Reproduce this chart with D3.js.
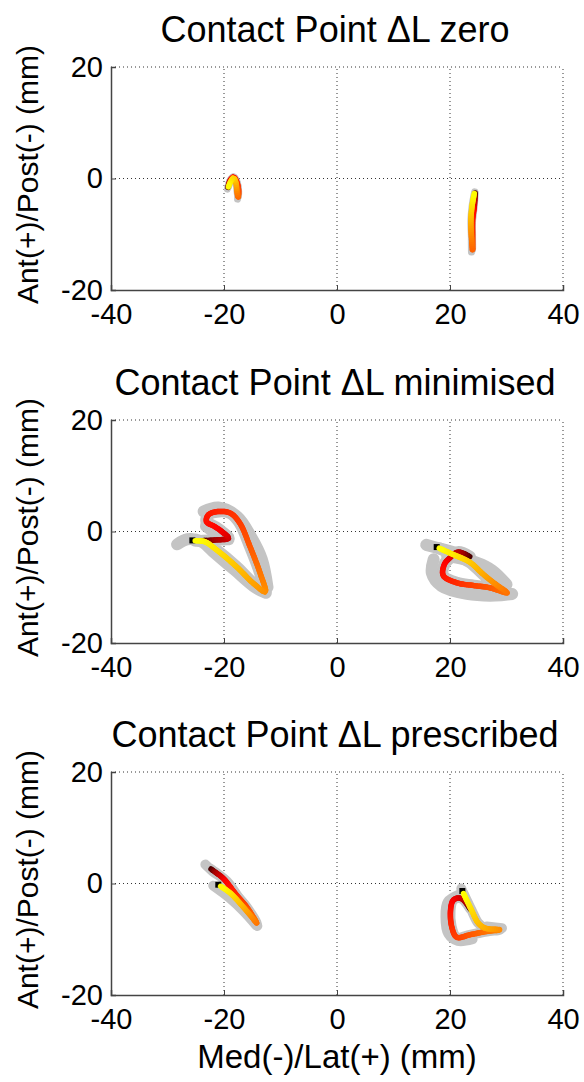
<!DOCTYPE html>
<html><head><meta charset="utf-8">
<script src="https://cdn.jsdelivr.net/npm/d3@7/dist/d3.min.js"></script>
<style>
html,body{margin:0;padding:0;background:#fff;}
svg{display:block;font-family:"Liberation Sans",Arial,sans-serif;}
</style></head>
<body>
<svg id="c" width="584" height="1082"></svg>
<script>
// ---- data ----
const xTicks = [-40, -20, 0, 20, 40];
const yTicks = [-20, 0, 20];
const titles = ["Contact Point \u0394L zero", "Contact Point \u0394L minimised", "Contact Point \u0394L prescribed"];
const xLabel = "Med(-)/Lat(+) (mm)";
const yLabel = "Ant(+)/Post(-) (mm)";

// mean contact-point paths (x mm, y mm), ordered in time
const zeroMed = [[-19.3,-1.6],[-18.9,-0.3],[-18.3,0.25],[-17.7,-0.7],[-17.4,-2.3],[-17.5,-3.4],[-17.7,-2.3],[-17.9,-0.7],[-18.3,0.1],[-18.8,-0.5],[-19.2,-1.5]];
const zeroLat = [[24.45,-2.6],[24.3,-5.0],[24.0,-7.5],[24.0,-10.5],[24.0,-12.9],[23.8,-10.5],[23.7,-7.5],[23.9,-5.0],[24.3,-2.7]];
const minMed = [[-23.8,-1.65],[-21.3,-1.5],[-19.2,-1.2],[-20.4,0.0],[-21.6,0.86],[-23.1,1.76],[-22.8,2.96],[-21.3,3.55],[-18.9,3.3],[-17.2,1.5],[-15.4,-2.7],[-13.6,-7.5],[-12.7,-10.8],[-14.8,-9.3],[-17.8,-6.3],[-21.3,-3.3],[-23.4,-1.83],[-25.1,-1.65]];
const minLat = [[23.5,-4.5],[21.4,-3.7],[19.8,-4.9],[19.0,-5.9],[18.8,-7.9],[21.2,-9.2],[24.2,-9.7],[27.1,-10.1],[30.1,-11.0],[28.0,-9.4],[25.8,-7.6],[23.5,-5.5],[20.5,-4.1],[18.1,-3.0]];
const preMed = [[-22.3,2.6],[-21.5,2.0],[-20.1,0.9],[-17.8,-2.06],[-16.0,-4.2],[-14.2,-7.1],[-15.1,-6.0],[-16.6,-4.2],[-18.9,-1.7],[-20.6,-0.5]];
const preLat = [[23.6,-4.6],[22.2,-2.8],[21.3,-2.6],[20.5,-3.1],[20.1,-4.75],[20.3,-7.75],[21.2,-9.65],[23.5,-9.2],[26.5,-8.6],[28.8,-8.3],[26.2,-8.0],[25.0,-7.1],[23.8,-4.75],[22.4,-1.8]];

// grey variability bands (x mm, y mm)
const zeroMedBand = [[[-19.4,-1.9],[-18.9,-0.3],[-18.3,0.3],[-17.6,-0.9],[-17.5,-2.5],[-17.6,-3.7]]];
const zeroLatBand = [[[24.4,-2.4],[24.1,-6.0],[23.8,-10.0],[23.8,-13.2]]];
const minMedBand = [
  [[-28.3,-2.3],[-26.5,-1.4],[-24.0,-1.8],[-21.5,-4.0],[-18.0,-7.0],[-14.5,-10.0],[-12.6,-11.0]],
  [[-23.6,3.6],[-21.0,4.3],[-17.6,2.6],[-15.2,-1.0],[-13.3,-5.0],[-12.3,-10.0]],
  [[-23.2,1.0],[-21.0,-0.6],[-19.2,-1.4]]
];
const minLatBand = [
  [[15.8,-2.4],[18.0,-3.0],[21.0,-3.8]],
  [[17.1,-5.0],[16.8,-7.5],[18.5,-9.8],[23.0,-11.2],[28.0,-11.5],[31.0,-11.2]],
  [[19.5,-4.4],[24.5,-5.5],[27.5,-7.0],[30.0,-9.5]]
];
const preMedBand = [
  [[-23.3,3.4],[-22.0,2.2],[-19.5,0.4],[-17.5,-2.4],[-15.5,-5.2],[-14.1,-7.6]],
  [[-21.9,-0.4],[-19.0,-2.6],[-16.5,-5.0],[-14.3,-7.5]]
];
const preLatBand = [
  [[21.6,-2.0],[19.6,-3.3],[19.2,-6.0],[19.7,-9.0],[21.4,-10.3],[24.0,-10.0]],
  [[26.5,-7.7],[29.2,-8.0]],
  [[22.0,-0.9],[22.4,-2.0]]
];

const panels = [
  {title: titles[0], traces: [zeroMed, zeroLat], bands: [zeroMedBand, zeroLatBand], bandW: 7, marker:false},
  {title: titles[1], traces: [minMed, minLat], bands: [minMedBand, minLatBand], bandW: 12, marker:true},
  {title: titles[2], traces: [preMed, preLat], bands: [preMedBand, preLatBand], bandW: 10, marker:true}
];

// ---- layout ----
const svg = d3.select("#c");
const L = 111, R = 563, H = 223;
const tops = [67, 420, 772];
const x = d3.scaleLinear().domain([-40, 40]).range([L, R]);
const hot = d3.scaleLinear().domain([0, 0.05, 0.16, 0.6, 1])
  .range(["#3a0000", "#a00000", "#ff0000", "#ff7800", "#ffff00"]).interpolate(d3.interpolateRgb);
const fmt = d => String(d); // hyphen-minus like the reference

panels.forEach((p, i) => {
  const top = tops[i];
  const y = d3.scaleLinear().domain([-20, 20]).range([top + H, top]);
  const g = svg.append("g");

  // grid (dotted)
  xTicks.forEach(t => {
    if (t === -40) return;
    g.append("line").attr("x1", x(t)).attr("x2", x(t)).attr("y1", y(-20)).attr("y2", y(20))
      .attr("stroke", "#333").attr("stroke-width", 1).attr("stroke-dasharray", "1,3");
  });
  yTicks.forEach(t => {
    if (t === -20) return;
    g.append("line").attr("x1", x(-40)).attr("x2", x(40)).attr("y1", y(t)).attr("y2", y(t))
      .attr("stroke", "#333").attr("stroke-width", 1).attr("stroke-dasharray", "1,3");
  });

  // axes
  const xa = g.append("g").attr("transform", `translate(0,${y(-20)})`)
    .call(d3.axisBottom(x).tickValues(xTicks).tickSize(-5).tickPadding(9).tickFormat(fmt));
  const ya = g.append("g").attr("transform", `translate(${x(-40)},0)`)
    .call(d3.axisLeft(y).tickValues(yTicks).tickSize(-5).tickPadding(8).tickFormat(fmt));
  [xa, ya].forEach(a => {
    a.select(".domain").attr("stroke", "#444").attr("stroke-width", 1.5);
    a.selectAll(".tick line").attr("stroke", "#444");
    a.selectAll("text").attr("fill", "#000").attr("font-size", 29)
      .attr("font-family", "'Liberation Sans', Arial, sans-serif");
  });
  xa.selectAll("text").attr("dy", "0.85em");

  // title
  g.append("text").attr("x", (L + R) / 2 - 2).attr("y", top - 25).attr("text-anchor", "middle")
    .attr("font-size", 36).text(p.title);
  // y label
  g.append("text").attr("transform", `translate(38,${top + H / 2 - 4}) rotate(-90)`)
    .attr("text-anchor", "middle").attr("font-size", 30).text(yLabel);

  const line = d3.line().x(d => x(d[0])).y(d => y(d[1])).curve(d3.curveCatmullRom.alpha(0.5));

  // bands
  p.bands.forEach((bs, k) => {
    g.append("path").attr("d", line(p.traces[k])).attr("fill", "none").attr("stroke", "#c4c4c4")
      .attr("stroke-width", p.bandW).attr("stroke-linejoin", "round").attr("stroke-linecap", "round");
    bs.forEach(b => {
      g.append("path").attr("d", line(b)).attr("fill", "none").attr("stroke", "#c4c4c4")
        .attr("stroke-width", p.bandW).attr("stroke-linejoin", "round").attr("stroke-linecap", "round");
    });
  });

  // colored traces
  p.traces.forEach(tr => {
    const last = tr[tr.length - 1], prev = tr[tr.length - 2];
    if (p.marker) {
      const dx = last[0] - prev[0], dy = last[1] - prev[1];
      const len = Math.hypot(dx, dy) || 1;
      const mx = last[0] + dx / len * 0.5, my = last[1] + dy / len * 0.5;
      g.append("rect").attr("x", x(mx) - 3).attr("y", y(my) - 3).attr("width", 6).attr("height", 6).attr("fill", "#000");
    }
    const tmp = g.append("path").attr("d", line(tr)).attr("fill", "none").attr("stroke", "none");
    const node = tmp.node();
    const total = node.getTotalLength();
    const n = Math.max(20, Math.round(total / 2));
    const pts = d3.range(n + 1).map(j => node.getPointAtLength(total * j / n));
    tmp.remove();
    for (let j = 0; j < n; j++) {
      g.append("line").attr("x1", pts[j].x).attr("y1", pts[j].y).attr("x2", pts[j + 1].x).attr("y2", pts[j + 1].y)
        .attr("stroke", hot((j + 0.5) / n)).attr("stroke-width", 5.5).attr("stroke-linecap", "round");
    }
  });
});

svg.append("text").attr("x", (L + R) / 2).attr("y", 1068).attr("text-anchor", "middle")
  .attr("font-size", 33).text(xLabel);
</script>
</body></html>
